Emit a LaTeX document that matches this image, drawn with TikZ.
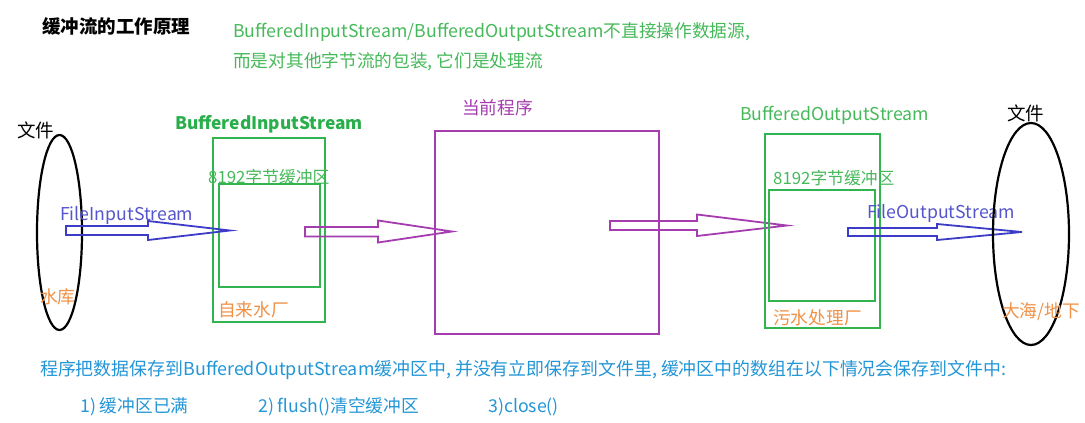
\documentclass[tikz,border=0pt]{standalone}
\usepackage{fontspec}
\usetikzlibrary{shapes.geometric}
\setmainfont{Noto Sans CJK SC}
\definecolor{tgreen}{RGB}{70,185,90}
\definecolor{bgreen}{RGB}{40,175,75}
\definecolor{rgreen}{RGB}{50,180,80}
\definecolor{purp}{RGB}{165,60,175}
\definecolor{arrblue}{RGB}{60,60,200}
\definecolor{txtblue}{RGB}{85,85,205}
\definecolor{orng}{RGB}{240,145,70}
\definecolor{cyantxt}{RGB}{35,150,215}
\begin{document}
\begin{tikzpicture}[x=1pt,y=-1pt,
  lbl/.style={inner sep=0pt,anchor=west,font=\fontsize{17.7}{20}\selectfont},
  box/.style={draw,line width=2pt},
  blk/.style={draw,line width=1.8pt,line join=miter}]
\useasboundingbox[fill=white] (0,0) rectangle (1085,423);
% title and notes
\node[lbl,font=\fontsize{18.5}{21}\bfseries\selectfont] (title) at (42,26) {缓冲流的工作原理};
\node[lbl,text=tgreen] (note1) at (233,32) {BufferedInputStream/BufferedOutputStream不直接操作数据源,};
\node[lbl,text=tgreen] (note2) at (233,62) {而是对其他字节流的包装, 它们是处理流};
% left file
\node[draw,ellipse,line width=2.2pt,minimum width=45pt,minimum height=195pt,inner sep=0pt] (fileL) at (59.5,232.5) {};
\node[lbl,font=\fontsize{18.5}{21}\selectfont] (fileLt) at (17,130) {文件};
\node[lbl,text=orng] (resv) at (40,297) {水库};
% buffered input stream
\node[lbl,font=\fontsize{17.3}{20}\bfseries\selectfont,text=bgreen] (bisl) at (175,124) {BufferedInputStream};
\draw[box,rgreen] (213,138) rectangle (325,322);
\node[lbl,font=\fontsize{16.8}{19}\selectfont,text=tgreen] (bufL) at (208,177) {8192字节缓冲区};
\draw[box,rgreen] (219,184) rectangle (320,287);
\node[lbl,text=orng] (plant) at (218,310) {自来水厂};
% FileInputStream arrow
\node[lbl,text=txtblue] (fis) at (60,215) {FileInputStream};
\draw[blk,arrblue] (66,226) -- (148,226) -- (148,221) -- (230,230.5) -- (148,240) -- (148,235) -- (66,235) -- cycle;
% purple arrow 1
\draw[blk,purp] (305,227) -- (378,227) -- (378,220.5) -- (452,231.5) -- (378,242.5) -- (378,236.5) -- (305,236.5) -- cycle;
% program
\node[lbl,text=purp] (progt) at (462,108) {当前程序};
\draw[box,purp] (435,131) rectangle (659,334);
% purple arrow 2
\draw[blk,purp] (610,221) -- (697,221) -- (697,214.5) -- (787,225.5) -- (697,236) -- (697,230) -- (610,230) -- cycle;
% buffered output stream
\node[lbl,text=tgreen] (bosl) at (740,115) {BufferedOutputStream};
\draw[box,rgreen] (765,134) rectangle (880,328);
\node[lbl,font=\fontsize{16.8}{19}\selectfont,text=tgreen] (bufR) at (773,178) {8192字节缓冲区};
\draw[box,rgreen] (769,190) rectangle (875,301);
\node[lbl,text=orng] (sew) at (773,318) {污水处理厂};
% FileOutputStream arrow
\node[lbl,text=txtblue] (fos) at (867,213) {FileOutputStream};
\draw[blk,arrblue] (848,228) -- (937,228) -- (937,224) -- (1022,232) -- (937,240) -- (937,236) -- (848,236) -- cycle;
% right file
\node[draw,ellipse,line width=2.2pt,minimum width=76pt,minimum height=222pt,inner sep=0pt] (fileR) at (1031,234) {};
\node[lbl,font=\fontsize{18.5}{21}\selectfont] (fileRt) at (1007,113) {文件};
\node[lbl,text=orng] (sea) at (1002,312) {大海/地下};
% bottom notes
\node[lbl,font=\fontsize{17.9}{20}\selectfont,text=cyantxt] (b1) at (40,370) {程序把数据保存到BufferedOutputStream缓冲区中, 并没有立即保存到文件里, 缓冲区中的数组在以下情况会保存到文件中:};
\node[lbl,text=cyantxt] (b2) at (80,407) {1) 缓冲区已满};
\node[lbl,text=cyantxt] (b3) at (258,407) {2) flush()清空缓冲区};
\node[lbl,text=cyantxt] (b4) at (488,407) {3)close()};
\end{tikzpicture}
\end{document}
